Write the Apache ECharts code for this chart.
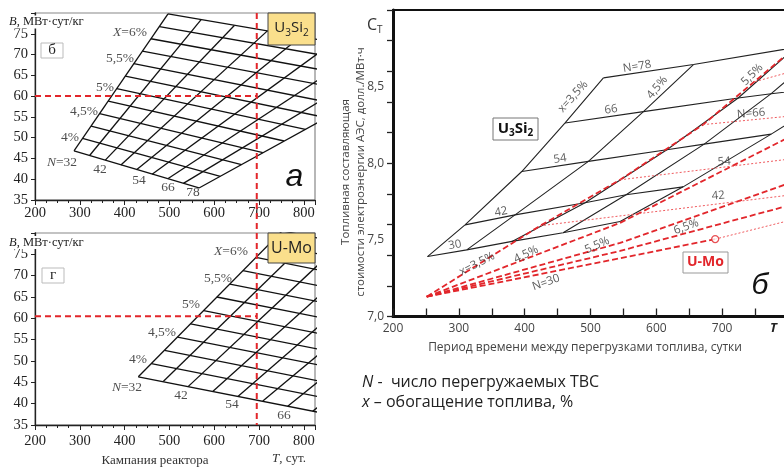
<!DOCTYPE html>
<html><head><meta charset="utf-8">
<script src="https://cdn.jsdelivr.net/npm/echarts@6/dist/echarts.min.js"></script>
<style>html,body{margin:0;padding:0;background:#fff;}#chart{width:784px;height:467px;}</style>
</head><body><div id="chart"></div>
<script>
// ===== Panel "а" (U3Si2): burnup B vs campaign T. N-lines (N=32..78) and X-lines (X=3.75..6.5 %) =====
const aNBottom = [[287.1,46.8],[321.9,45.7],[356.9,44.6],[391.7,43.4],[426.6,42.3],[461.4,41.2],[496.4,40.1],[531.2,39.0],[566.1,37.9]];
const aNTop    = [[496.9,79.8],[570.8,78.4],[644.9,77.0],[718.7,75.7],[792.6,74.3],[866.5,73.0],[940.6,71.6],[1014.5,70.3],[1088.4,68.9]];
const aXLeft   = [[287.1,46.8],[306.0,49.8],[325.2,52.8],[344.2,55.8],[363.4,58.8],[382.4,61.8],[401.6,64.8],[420.5,67.8],[439.7,70.8],[458.7,73.8],[477.9,76.7],[496.9,79.8]];
const aXRight  = [[566.1,37.9],[613.6,40.7],[660.9,43.5],[708.5,46.4],[756.0,49.2],[803.6,52.0],[850.9,54.8],[898.4,57.6],[946.0,60.5],[993.5,63.3],[1040.8,66.1],[1088.4,68.9]];

// ===== Panel "г" (U-Mo) =====
const gNBottom = [[430.6,46.3],[486.2,45.2],[541.7,44.0],[597.3,42.9],[652.9,41.7],[708.5,40.6],[764.1,39.4],[819.6,38.2],[875.2,37.1]];
const gNTop    = [[751.8,80.5],[818.3,79.1],[884.8,77.7],[951.3,76.3],[1017.8,74.9],[1084.4,73.5],[1150.9,72.1],[1217.4,70.7],[1283.9,69.3]];
const gXLeft   = [[430.6,46.3],[459.8,49.4],[489.1,52.5],[518.1,55.6],[547.3,58.7],[576.6,61.8],[605.8,65.0],[635.0,68.0],[664.1,71.2],[693.3,74.3],[722.5,77.4],[751.8,80.5]];
const gXRight  = [[875.2,37.1],[912.3,40.0],[949.5,42.9],[986.6,45.9],[1023.9,48.8],[1060.9,51.7],[1098.2,54.7],[1135.3,57.6],[1172.5,60.5],[1209.6,63.4],[1246.9,66.4],[1283.9,69.3]];

// selected campaign and burnups (red dashed guides)
const selT = 695;
const selBa = 60;
const selBg = 60.5;

// ===== Panel "б": fuel cost C_T vs T =====
// U3Si2 (black) nodes for N = 30, 42, 54, 66, 78 along each enrichment x
const siX35 = [[252.4,7.391],[309.4,7.598],[395.6,7.946],[461.4,8.263],[519.6,8.557]];
const siX45 = [[312.0,7.435],[385.4,7.663],[496.8,8.012],[580.4,8.337],[656.4,8.644]];
const siX55 = [[380.9,7.490],[491.8,7.742],[616.0,8.088],[724.3,8.426],[811.0,8.755]];
const siX65 = [[458.4,7.546],[554.1,7.794],[672.7,8.125],[774.5,8.454],[863.7,8.780]];
const siX75 = [[545.0,7.620],[640.7,7.846],[774.5,8.190],[894.5,8.513],[970.5,8.820]];
// U-Mo (red) lines
const moX35 = [[251.2,7.129],[423.4,7.592],[545.0,7.892],[671.1,8.252],[794.2,8.696]];
const moX45 = [[251.2,7.129],[545.0,7.611],[794.2,8.154]];
const moX55 = [[251.2,7.129],[545.0,7.480],[794.2,7.859]];
const moX65 = [[251.2,7.129],[545.0,7.428],[794.2,7.716]];
const moN30 = [[251.2,7.129],[545.0,7.380],[689.4,7.505]];
const moN30tail = [[689.4,7.505],[794.2,7.618]];
const moN42 = [[423.4,7.592],[794.2,7.788]];
const moN54 = [[545.0,7.892],[794.2,8.023]];
const moN66 = [[671.1,8.252],[794.2,8.304]];
const moN78 = [[750.2,8.533],[794.2,8.585]];
const moPoint = [689.4,7.505];

// tick label values
const bTickLabels = [35,40,45,50,55,60,65,70,75];
const cTickLabels = [7.0,7.5,8.0,8.5];
const tTickLabelsRight = [200,300,400,500,600,700];

// annotation anchors (data units)
const aLabels = [
  {text:'{i|X}=6%', at:[412,75.2]}, {text:'5,5%', at:[389.7,69.1]}, {text:'5%', at:[356.2,62.2]},
  {text:'4,5%', at:[309.4,56.4]}, {text:'4%', at:[278.1,50.1]}, {text:'{i|N}=32', at:[260.3,44.1]},
  {text:'42', at:[345.2,42.4]}, {text:'54', at:[432.1,39.8]}, {text:'66', at:[496.8,37.9]}, {text:'78', at:[552.7,36.7]}
];
const gLabels = [
  {text:'{i|X}=6%', at:[637.6,75.6]}, {text:'5,5%', at:[608.4,69.4]}, {text:'5%', at:[548.1,63.2]},
  {text:'4,5%', at:[483.5,56.8]}, {text:'4%', at:[429.9,50.3]}, {text:'{i|N}=32', at:[405.4,43.9]},
  {text:'42', at:[525.9,42.0]}, {text:'54', at:[639.7,39.7]}, {text:'66', at:[755.8,37.3]}
];
const bLabelsBlack = [
  {text:'N=78', at:[570.8,8.631], rot:9}, {text:'66', at:[531.3,8.350], rot:8}, {text:'54', at:[453.8,8.029], rot:8},
  {text:'42', at:[364.1,7.683], rot:10}, {text:'30', at:[294.2,7.467], rot:10},
  {text:'x=3,5%', at:[473.6,8.435], rot:48}, {text:'4,5%', at:[601.2,8.494], rot:50}, {text:'5,5%', at:[745.6,8.578], rot:45}
];
const bLabelsRed = [
  {text:'N=66', at:[744.1,8.324], rot:5}, {text:'54', at:[703.0,8.010], rot:5}, {text:'42', at:[693.9,7.788], rot:5},
  {text:'6,5%', at:[645.3,7.585], rot:20}, {text:'5,5%', at:[510.0,7.465], rot:24}, {text:'4,5%', at:[402.1,7.405], rot:26},
  {text:'x=3,5%', at:[327.7,7.343], rot:27}, {text:'N=30', at:[432.5,7.222], rot:19}
];

// ===================================================================
const SERIF = '"Liberation Serif","Times New Roman",serif';
const SANS = '"Open Sans","Liberation Sans",Arial,sans-serif';
const RED = '#e2262b';
const chart = echarts.init(document.getElementById('chart'));

function line(xi, yi, pts, style, z) {
  return {type:'line', xAxisIndex:xi, yAxisIndex:yi, data:pts, symbol:'none', showSymbol:false,
          lineStyle:style, clip:true, silent:true, animation:false, z:z||2};
}
const series = [];
const blackL = {color:'#111', width:1.3};
const blackR = {color:'#222', width:1.1};
aNBottom.forEach((p,i)=>series.push(line(0,0,[p,aNTop[i]],blackL)));
aXLeft.forEach((p,i)=>series.push(line(0,0,[p,aXRight[i]],blackL)));
gNBottom.forEach((p,i)=>series.push(line(1,1,[p,gNTop[i]],blackL)));
gXLeft.forEach((p,i)=>series.push(line(1,1,[p,gXRight[i]],blackL)));
const redDash = {color:RED, width:2, type:[6,4]};
series.push(line(0,0,[[200,selBa],[selT,selBa]],redDash,4));
series.push(line(1,1,[[200,selBg],[selT,selBg]],redDash,4));

// right panel black lattice
const siX = [siX35, siX45, siX55, siX65, siX75];
siX.forEach(arr=>series.push(line(2,2,arr,blackR)));
for (let k=0;k<5;k++) series.push(line(2,2,siX.map(a=>a[k]),blackR));
// right panel red lattice
const redThick = {color:RED, width:1.8, type:[6,3]};
const redThin = {color:'#ef5a5e', width:1, type:[2,2]};
[moX35,moX45,moX55,moX65,moN30].forEach(a=>series.push(line(2,2,a,redThick,3)));
[moN30tail,moN42,moN54,moN66,moN78].forEach(a=>series.push(line(2,2,a,redThin,3)));
series.push({type:'scatter', xAxisIndex:2, yAxisIndex:2, data:[moPoint], symbol:'circle', symbolSize:7,
  itemStyle:{color:'#fff', borderColor:RED, borderWidth:1.3}, silent:true, animation:false, z:6});
series.push({type:'line', xAxisIndex:2, yAxisIndex:3, data:[], silent:true});

function labels(xi, yi, items, st) {
  return {type:'scatter', xAxisIndex:xi, yAxisIndex:yi, symbolSize:0, silent:true, animation:false, z:8,
    data: items.map(it=>({value:it.at, label:{show:true, position:'inside', formatter:it.text, rotate:it.rot||0}})),
    label:Object.assign({show:true}, st)};
}
const serifLab = {fontFamily:SERIF, fontSize:13.5, color:'#222', rich:{i:{fontFamily:SERIF, fontStyle:'italic', fontSize:13.5, color:'#222'}}};
series.push(labels(0,0,aLabels,serifLab));
series.push(labels(1,1,gLabels,serifLab));
const sansLab = {fontFamily:SANS, fontSize:11.5, color:'#333'};
series.push(labels(2,2,bLabelsBlack,sansLab));
series.push(labels(2,2,bLabelsRed,sansLab));

function leftX(gi, margin) {
  return {type:'value', gridIndex:gi, min:200, max:825, interval:100,
    axisLine:{show:true, onZero:false, lineStyle:{color:'#222', width:1.3}},
    axisTick:{show:true, inside:false, length:5, lineStyle:{color:'#222'}},
    minorTick:{show:true, splitNumber:4, length:3, lineStyle:{color:'#222'}},
    splitLine:{show:false}, minorSplitLine:{show:false},
    axisLabel:{fontFamily:SERIF, fontSize:14.5, color:'#222', margin:margin,
      formatter:v=>(v%100===0 && v<=800)?String(v):''}};
}
function leftY(gi) {
  return {type:'value', gridIndex:gi, position:'left', min:35, max:80, interval:5,
    axisLine:{show:true, onZero:false, lineStyle:{color:'#222', width:1.3}},
    axisTick:{show:true, inside:false, length:4, lineStyle:{color:'#222'}},
    splitLine:{show:false},
    axisLabel:{fontFamily:SERIF, fontSize:14.5, color:'#222', margin:7,
      formatter:v=>bTickLabels.indexOf(v)>=0?String(v):''}};
}

const option = {
  animation:false,
  backgroundColor:'#fff',
  grid:[
    {left:35, top:13, width:280, height:187, show:true, borderColor:'#888', borderWidth:1.2, containLabel:false, outerBoundsMode:'none'},
    {left:35, top:233, width:280, height:192, show:true, borderColor:'#888', borderWidth:1.2, containLabel:false, outerBoundsMode:'none'},
    {left:393, top:10, width:395, height:306.5, show:true, borderColor:'#111', borderWidth:2, containLabel:false, outerBoundsMode:'none'}
  ],
  xAxis:[
    leftX(0,6), leftX(1,9),
    {type:'value', gridIndex:2, position:'bottom', min:200, max:800, interval:50,
      axisLine:{show:true, onZero:false, lineStyle:{color:'#111', width:3}},
      axisTick:{show:true, inside:true, length:8, lineStyle:{color:'#222', width:1.3}},
      splitLine:{show:false},
      axisLabel:{fontFamily:SANS, fontSize:12, color:'#444', margin:6,
        formatter:v=>tTickLabelsRight.indexOf(v)>=0?String(v):''}}
  ],
  yAxis:[
    leftY(0), leftY(1),
    {type:'value', gridIndex:2, position:'left', min:7, max:9, interval:0.2,
      axisLine:{show:true, onZero:false, lineStyle:{color:'#111', width:3}},
      axisTick:{show:true, inside:false, length:6, lineStyle:{color:'#222', width:1.3}},
      splitLine:{show:false}, axisLabel:{show:false}},
    {type:'value', gridIndex:2, position:'left', offset:0, min:7, max:9, interval:0.5,
      axisLine:{show:false}, axisTick:{show:false}, splitLine:{show:false},
      axisLabel:{fontFamily:SANS, fontSize:12, color:'#444', margin:9,
        formatter:v=>{const m=cTickLabels.find(c=>Math.abs(c-v)<1e-6); return m===undefined?'':m.toFixed(1).replace('.',',');}}}
  ],
  series: series
};
chart.setOption(option);

// ---------- annotations ----------
const pTop = chart.convertToPixel({xAxisIndex:0, yAxisIndex:0}, [selT, 80]);
const pBot = chart.convertToPixel({xAxisIndex:1, yAxisIndex:1}, [selT, 35]);
function txt(x, y, text, font, fill, extra) {
  return Object.assign({type:'text', x:x, y:y, z:100,
    style:Object.assign({text:text, font:font, fill:fill||'#222', align:'center', verticalAlign:'middle'}, extra||{})});
}
function box(x, y, w, h, fill, stroke) {
  return {type:'rect', z:99, shape:{x:x, y:y, width:w, height:h}, style:{fill:fill, stroke:stroke, lineWidth:1}};
}
const subRich = {
  m:{fontFamily:SANS, fontSize:15, color:'#222', lineHeight:20},
  s:{fontFamily:SANS, fontSize:10, color:'#222', lineHeight:12, verticalAlign:'bottom'}
};
const subRichBold = {
  m:{fontFamily:SANS, fontSize:15, fontWeight:'bold', color:'#111', lineHeight:20},
  s:{fontFamily:SANS, fontSize:10, fontWeight:'bold', color:'#111', lineHeight:12, verticalAlign:'bottom'}
};
const nameRich = {
  i:{fontFamily:SERIF, fontStyle:'italic', fontSize:12.5, color:'#222'},
  n:{fontFamily:SERIF, fontSize:12.5, color:'#222'}
};
chart.setOption({graphic:[
  {type:'line', z:60, shape:{x1:pTop[0], y1:pTop[1], x2:pBot[0], y2:pBot[1]}, style:{stroke:RED, lineWidth:2, lineDash:[6,4]}},
  // panel а
  txt(9, 22, '{i|B}{n|, МВт·сут/кг}', '12.5px '+SERIF, '#222', {align:'left', rich:nameRich, backgroundColor:'#fff', padding:[0,2,0,0]}),
  box(41, 43, 22, 15, '#fff', '#bbb'),
  txt(52, 50.5, 'б', '15px '+SERIF, '#222'),
  box(268, 13, 47, 32, '#FADF8C', '#444'),
  txt(291.5, 28, '{m|U}{s|3}{m|Si}{s|2}', '15px '+SANS, '#222', {rich:subRich}),
  txt(294.5, 177, 'а', 'italic 32px "Liberation Sans", Arial, sans-serif', '#111'),
  // panel г
  txt(9, 242.5, '{i|B}{n|, МВт·сут/кг}', '12.5px '+SERIF, '#222', {align:'left', rich:nameRich, backgroundColor:'#fff', padding:[0,2,0,0]}),
  box(42, 268, 22, 15, '#fff', '#bbb'),
  txt(53, 275.5, 'г', '15px '+SERIF, '#222'),
  box(268, 233, 47, 30, '#FADF8C', '#444'),
  txt(291.5, 248, 'U-Mo', '16px '+SANS, '#222'),
  txt(155, 461, 'Кампания реактора', '13px '+SERIF, '#333'),
  txt(289, 459, '{i|T}{n|, сут.}', '13px '+SERIF, '#333', {rich:{i:{fontFamily:SERIF,fontStyle:'italic',fontSize:13,color:'#333'}, n:{fontFamily:SERIF,fontSize:13,color:'#333'}}}),
  // panel б
  txt(367, 25, '{c|C}{t|T}', '16px '+SANS, '#333', {align:'left', rich:{c:{fontFamily:SANS,fontSize:16,color:'#333',lineHeight:20}, t:{fontFamily:SANS,fontSize:10,color:'#333',lineHeight:12,verticalAlign:'bottom'}}}),
  {type:'text', z:100, x:353.5, y:172, rotation:Math.PI/2,
    style:{text:'Топливная составляющая\nстоимости электроэнергии АЭС, долл./МВт·ч', font:'11.5px '+SANS, fill:'#444', align:'center', verticalAlign:'middle', lineHeight:15}},
  txt(585, 348, 'Период времени между перегрузками топлива, сутки', '12px '+SANS, '#444'),
  txt(773.5, 328, 'T', 'italic bold 13px '+SANS, '#222'),
  txt(760, 286, 'б', 'italic 30px "Liberation Sans", Arial, sans-serif', '#111'),
  box(493, 118, 45, 22, '#fff', '#777'),
  txt(515.5, 128.5, '{m|U}{s|3}{m|Si}{s|2}', 'bold 15px '+SANS, '#111', {rich:subRichBold}),
  box(683, 252, 45, 21, '#fff', '#999'),
  txt(705.5, 262.5, 'U-Mo', 'bold 14px '+SANS, RED),
  txt(362, 382, '{i|N} -  число перегружаемых ТВС', '16px '+SANS, '#222', {align:'left', rich:{i:{fontFamily:SANS,fontStyle:'italic',fontSize:16,color:'#222'}}}),
  txt(362, 402, '{i|x} – обогащение топлива, %', '16px '+SANS, '#222', {align:'left', rich:{i:{fontFamily:SANS,fontStyle:'italic',fontSize:16,color:'#222'}}})
]});
</script></body></html>
